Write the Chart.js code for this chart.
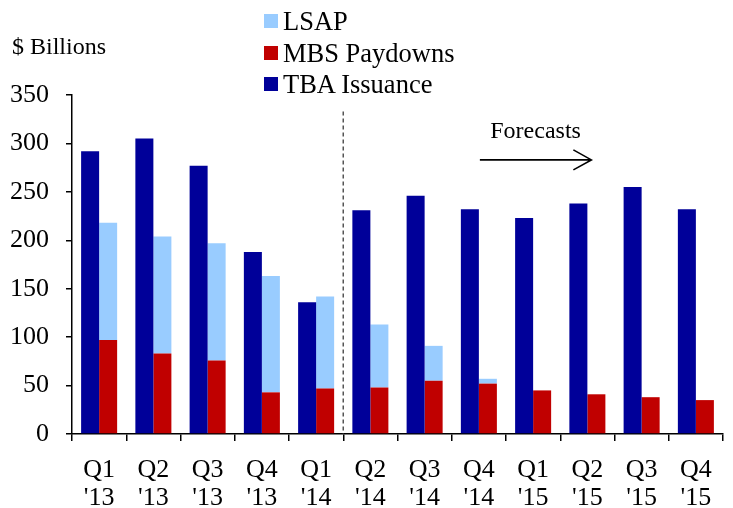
<!DOCTYPE html>
<html>
<head>
<meta charset="utf-8">
<script src="https://cdn.jsdelivr.net/npm/chart.js@4/dist/chart.umd.min.js"></script>
<style>
  html, body { margin: 0; padding: 0; background: #fff; }
  #wrap { position: relative; width: 733px; height: 508px; font-family: "Liberation Serif", "Times New Roman", serif; color: #000; }
  canvas { position: absolute; left: 0; top: 0; }
  .lbl { position: absolute; white-space: nowrap; line-height: 1; }
  .leg { position: absolute; left: 264px; height: 30px; display: flex; align-items: center; font-size: 26.5px; white-space: nowrap; }
  .leg i { display: inline-block; width: 14px; height: 14px; margin-right: 5px; }
</style>
</head>
<body>
<div id="wrap">
  <canvas id="c" width="733" height="508"></canvas>
  <div class="lbl" style="left:12px; top:34px; font-size:24px;">$ Billions</div>
  <div class="leg" style="top:6px;"><i style="background:#99CCFF"></i>LSAP</div>
  <div class="leg" style="top:38px;"><i style="background:#C00000"></i>MBS Paydowns</div>
  <div class="leg" style="top:69px;"><i style="background:#000099"></i>TBA Issuance</div>
  <div class="lbl" id="fc" style="font-size:24px;">Forecasts</div>
</div>
<script>
const categories = [["Q1","'13"],["Q2","'13"],["Q3","'13"],["Q4","'13"],["Q1","'14"],["Q2","'14"],["Q3","'14"],["Q4","'14"],["Q1","'15"],["Q2","'15"],["Q3","'15"],["Q4","'15"]];
const tbaIssuance = [292, 305, 277, 188, 136, 231, 246, 232, 223, 238, 255, 232];
const mbsPaydowns = [97, 83, 76, 43, 47, 48, 55, 52, 45, 41, 38, 35];
const lsap        = [121, 121, 121, 120, 95, 65, 36, 5, 0, 0, 0, 0];
const yTicks = [0, 50, 100, 150, 200, 250, 300, 350];

const FONT = "'Liberation Serif', 'Times New Roman', serif";

const annot = {
  id: 'annot',
  afterDatasetsDraw(chart) {
    const ctx = chart.ctx, x = chart.scales.x, y = chart.scales.y;
    // dashed separator between Q1'14 and Q2'14
    const xs = (x.getPixelForValue(4) + x.getPixelForValue(5)) / 2;
    ctx.save();
    ctx.strokeStyle = '#555';
    ctx.lineWidth = 1.5;
    ctx.setLineDash([4, 3]);
    ctx.beginPath();
    ctx.moveTo(xs, y.getPixelForValue(333));
    ctx.lineTo(xs, y.getPixelForValue(0));
    ctx.stroke();
    // Forecast arrow
    ctx.setLineDash([]);
    ctx.strokeStyle = '#000';
    ctx.lineWidth = 1.6;
    const x0 = x.getPixelForValue(7) + 1;
    const x1 = x.getPixelForValue(9) + 4;
    const ya = y.getPixelForValue(283);
    ctx.beginPath();
    ctx.moveTo(x0, ya); ctx.lineTo(x1, ya);
    ctx.moveTo(x1 - 18, ya - 10); ctx.lineTo(x1, ya); ctx.lineTo(x1 - 18, ya + 10);
    ctx.stroke();
    ctx.restore();
    const fc = document.getElementById('fc');
    const cx = (x.getPixelForValue(8) + x.getPixelForValue(9)) / 2 - 25;
    fc.style.left = (cx - 45) + 'px';
    fc.style.top = (y.getPixelForValue(314) - 12) + 'px';
  }
};

new Chart(document.getElementById('c'), {
  type: 'bar',
  data: {
    labels: categories,
    datasets: [
      { label: 'TBA Issuance', data: tbaIssuance, backgroundColor: '#000099', stack: 'tba' },
      { label: 'MBS Paydowns', data: mbsPaydowns, backgroundColor: '#C00000', stack: 'supply' },
      { label: 'LSAP', data: lsap, backgroundColor: '#99CCFF', stack: 'supply' }
    ]
  },
  options: {
    responsive: false,
    animation: false,
    devicePixelRatio: 1,
    categoryPercentage: 0.664,
    barPercentage: 1.0,
    layout: { padding: { left: 0, top: 95, right: 10, bottom: 0 } },
    plugins: { legend: { display: false }, tooltip: { enabled: false } },
    scales: {
      x: {
        stacked: true,
        offset: true,
        border: { display: true, color: '#000', width: 1.5 },
        grid: { display: true, offset: true, drawOnChartArea: false, drawTicks: true, tickLength: 7, color: '#000', lineWidth: 1.5 },
        ticks: { color: '#000', font: { family: FONT, size: 26, lineHeight: 1.08 }, padding: 15, maxRotation: 0, autoSkip: false },
        afterFit(s) { s.height = 74; }
      },
      y: {
        stacked: true,
        min: 0, max: 350,
        afterBuildTicks(s) { s.ticks = yTicks.map(v => ({ value: v })); },
        border: { display: true, color: '#000', width: 1.5 },
        grid: { display: true, drawOnChartArea: false, drawTicks: true, tickLength: 6, color: '#000', lineWidth: 1.5 },
        ticks: { color: '#000', font: { family: FONT, size: 26 }, padding: 17 },
        afterFit(s) { s.width = 72; }
      }
    }
  },
  plugins: [annot]
});
</script>
</body>
</html>
